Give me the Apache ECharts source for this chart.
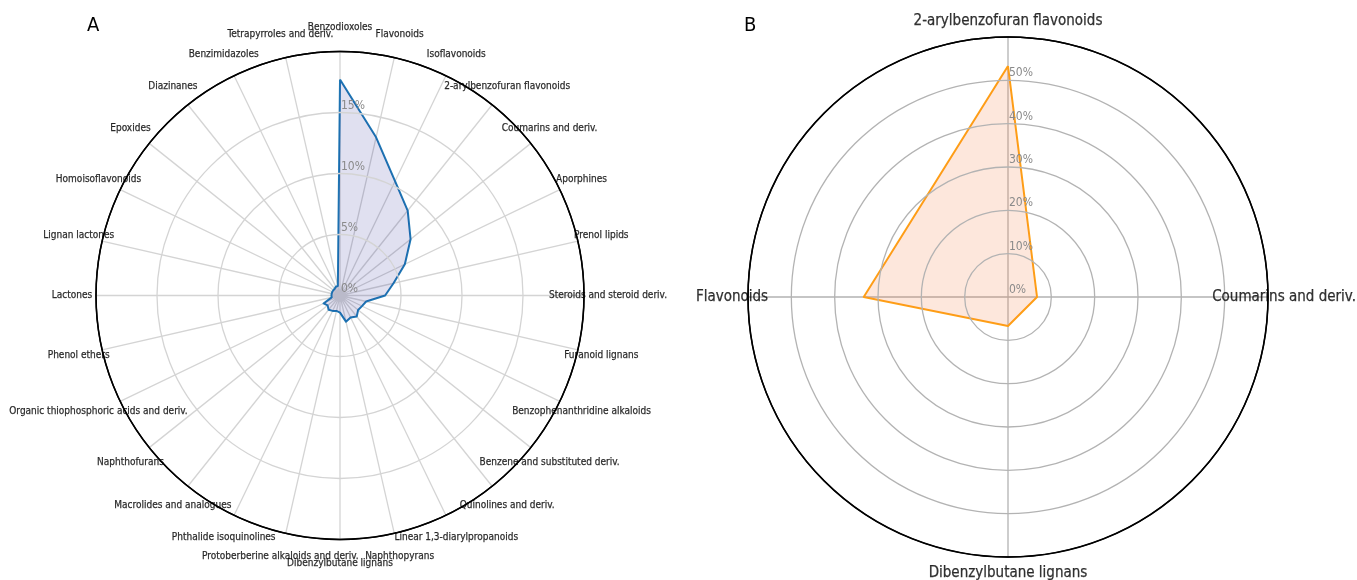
<!DOCTYPE html>
<html>
<head>
<meta charset="utf-8">
<script src="https://cdn.jsdelivr.net/npm/echarts@6/dist/echarts.min.js"></script>
<style>
html,body{margin:0;padding:0;background:#fff;}
#chart{width:1357px;height:580px;}
</style>
</head>
<body>
<div id="chart"></div>
<script>
// ---- Panel A data (clockwise from top) ----
const categoriesA = [
  'Benzodioxoles', 'Flavonoids', 'Isoflavonoids', '2-arylbenzofuran flavonoids',
  'Coumarins and deriv.', 'Aporphines', 'Prenol lipids', 'Steroids and steroid deriv.',
  'Furanoid lignans', 'Benzophenanthridine alkaloids', 'Benzene and substituted deriv.',
  'Quinolines and deriv.', 'Linear 1,3-diarylpropanoids', 'Naphthopyrans',
  'Dibenzylbutane lignans', 'Protoberberine alkaloids and deriv.', 'Phthalide isoquinolines',
  'Macrolides and analogues', 'Naphthofurans', 'Organic thiophosphoric acids and deriv.',
  'Phenol ethers', 'Lactones', 'Lignan lactones', 'Homoisoflavonoids', 'Epoxides',
  'Diazinanes', 'Benzimidazoles', 'Tetrapyrroles and deriv.'
];
const valuesA = [
  17.7, 13.3, 10.4, 8.9, 7.4, 5.9, 4.5, 3.7,
  2.2, 2.0, 1.9, 2.2, 2.0, 2.2,
  1.4, 1.3, 1.4, 1.5, 1.3, 1.5,
  0.7, 0.7, 0.7, 0.7, 0.7, 0.7, 0.8, 0.8
];
const radialTicksA = [0, 5, 10, 15, 20];

// ---- Panel B data (clockwise from top) ----
const categoriesB = ['2-arylbenzofuran flavonoids', 'Coumarins and deriv.', 'Dibenzylbutane lignans', 'Flavonoids'];
const valuesB = [53.3, 6.7, 6.7, 33.3];
const radialTicksB = [0, 10, 20, 30, 40, 50, 60];

const FONT = 'DejaVu Sans Condensed, DejaVu Sans';

// ECharts radar runs counter-clockwise; reorder so it reads clockwise
function clockwiseOrder(arr) { return [arr[0]].concat(arr.slice(1).reverse()); }

function panel(idx, cats, vals, ticks, center, radius, cfg) {
  const n = cats.length;
  const tmax = ticks[ticks.length - 1];
  const interval = ticks[1] - ticks[0];
  const splitColors = ticks.map((t, i) => i === ticks.length - 1 ? '#000' : cfg.gridColor);
  const polar = { center: center, radius: radius };
  const angleAxis = {
    polarIndex: idx, type: 'value', min: 0, max: n, interval: 1, startAngle: 90, clockwise: true,
    axisLine: { show: true, lineStyle: { color: '#000', width: 1.6 } },
    axisTick: { show: false }, axisLabel: { show: false },
    splitLine: { show: true, lineStyle: { color: cfg.gridColor, width: 1.3 } }
  };
  const radiusAxis = {
    polarIndex: idx, type: 'value', min: ticks[0], max: tmax, interval: interval, z: 5,
    axisLine: { show: false }, axisTick: { show: false },
    splitLine: { show: true, lineStyle: { color: splitColors, width: 1.3 } },
    axisLabel: {
      show: true, formatter: v => v === tmax ? '' : v + '%', color: '#8a8a8a', fontSize: 12,
      fontFamily: FONT, margin: -1, align: 'left', verticalAlign: 'bottom', padding: [0, 0, 1, 0],
      showMaxLabel: false
    }
  };
  const radar = {
    center: center, radius: radius, startAngle: 90, shape: 'circle',
    indicator: clockwiseOrder(cats).map(nm => ({ name: nm, min: ticks[0], max: tmax })),
    axisName: { show: false }, axisLine: { show: false }, splitLine: { show: false },
    splitArea: { show: false }, axisTick: { show: false }, axisLabel: { show: false }
  };
  const dataSeries = {
    type: 'radar', radarIndex: idx, symbol: 'none', z: 3,
    lineStyle: { color: cfg.lineColor, width: 2 },
    areaStyle: { color: cfg.fillColor, opacity: 1 },
    data: [{ value: clockwiseOrder(vals), name: 'share' }]
  };
  const nameSeries = {
    type: 'scatter', coordinateSystem: 'polar', polarIndex: idx, clip: false, silent: true,
    symbolSize: 1, itemStyle: { color: 'rgba(255,255,255,0)' }, z: 6,
    label: {
      show: true, position: 'inside', formatter: '{b}', color: '#000',
      fontSize: cfg.nameSize, fontFamily: FONT,
      textBorderColor: '#000', textBorderWidth: 0.25
    },
    data: cats.map((c, i) => ({ name: c, value: [cfg.nameRadius, i] }))
  };
  return { polar, angleAxis, radiusAxis, radar, dataSeries, nameSeries };
}

const pA = panel(0, categoriesA, valuesA, radialTicksA, [340, 295.5], 244,
  { gridColor: '#d4d4d4', lineColor: '#1f77b4', fillColor: 'rgba(0,0,128,0.12)', nameSize: 10, nameRadius: 21.97 });
const pB = panel(1, categoriesB, valuesB, radialTicksB, [1008, 297], 260,
  { gridColor: '#b3b3b3', lineColor: '#ffa114', fillColor: 'rgba(245,120,60,0.18)', nameSize: 15, nameRadius: 63.7 });

const chart = echarts.init(document.getElementById('chart'), null, { renderer: 'canvas' });
chart.setOption({
  animation: false,
  backgroundColor: '#fff',
  textStyle: { fontFamily: FONT },
  title: [
    { text: 'A', left: 87, top: 16, padding: 0, textStyle: { fontSize: 20, fontWeight: 'normal', color: '#000', fontFamily: FONT } },
    { text: 'B', left: 744, top: 16, padding: 0, textStyle: { fontSize: 20, fontWeight: 'normal', color: '#000', fontFamily: FONT } }
  ],
  polar: [pA.polar, pB.polar],
  angleAxis: [pA.angleAxis, pB.angleAxis],
  radiusAxis: [pA.radiusAxis, pB.radiusAxis],
  radar: [pA.radar, pB.radar],
  series: [pA.dataSeries, pB.dataSeries, pA.nameSeries, pB.nameSeries]
});
</script>
</body>
</html>
